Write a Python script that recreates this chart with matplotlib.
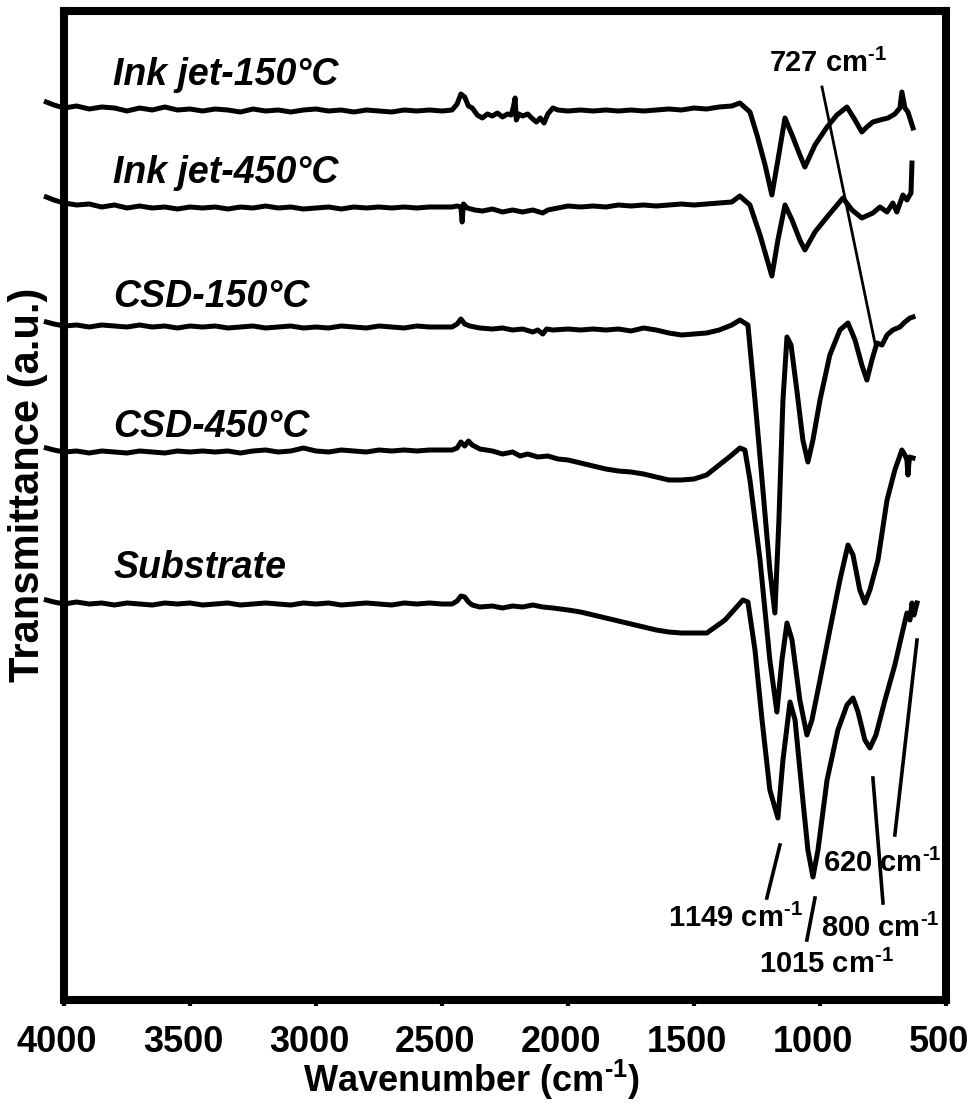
import matplotlib
matplotlib.use("Agg")
import matplotlib.pyplot as plt
from matplotlib.transforms import ScaledTranslation

plt.rcParams['font.family'] = ['Liberation Sans', 'DejaVu Sans']
plt.rcParams['font.weight'] = 'bold'
plt.rcParams['mathtext.fontset'] = 'custom'
plt.rcParams['mathtext.rm'] = 'Liberation Sans:bold'
plt.rcParams['mathtext.bf'] = 'Liberation Sans:bold'
plt.rcParams['mathtext.it'] = 'Liberation Sans:bold:italic'

# FTIR spectra, stacked with offsets (transmittance, arbitrary units)
wn_flat = [4070, 4040, 4000, 3950, 3900, 3850, 3800, 3750, 3700, 3650, 3600, 3550,
           3500, 3450, 3400, 3350, 3300, 3250, 3200, 3150, 3100, 3050, 3000, 2950,
           2900, 2850, 2800, 2750, 2700, 2650, 2600, 2550, 2500]

wn_ij150 = wn_flat + [2460, 2440, 2425, 2410, 2395, 2380, 2360, 2340, 2320, 2300,
                      2280, 2260, 2240, 2225, 2215, 2210, 2205, 2195, 2180, 2160,
                      2140, 2125, 2110, 2095, 2080, 2060, 2040, 2000, 1950, 1900,
                      1850, 1800, 1750, 1700, 1650, 1600, 1550, 1500, 1450, 1400,
                      1350, 1318, 1278, 1250, 1218, 1191, 1167, 1139, 1111, 1080,
                      1060, 1020, 972, 933, 893, 861, 834, 814, 790, 762, 730, 703,
                      683, 675, 663, 651, 631]
t_ij150 = [89.8, 89.5, 89.2, 89.4, 89.1, 89.3, 89.2, 88.9, 89.2, 89.0, 89.3, 89.0,
           89.1, 88.9, 89.1, 89.0, 88.8, 89.1, 88.9, 89.0, 88.8, 89.0, 89.1, 88.9,
           89.0, 88.8, 89.0, 88.9, 88.8, 89.0, 88.9, 89.0, 88.9,
           89.0, 89.6, 90.6, 90.3, 89.4, 89.2, 88.5, 88.2, 88.6, 88.4,
           88.7, 88.3, 88.6, 88.5, 89.5, 90.2, 88.0, 88.6, 88.4, 88.6,
           88.1, 87.8, 88.2, 87.7, 88.6, 89.2, 89.0, 88.9, 89.0, 88.9,
           89.0, 88.9, 89.0, 88.9, 89.0, 89.1, 89.0, 89.2, 89.1, 89.3,
           89.4, 89.7, 88.8, 86.5, 83.5, 80.5, 84.0, 88.2, 86.5, 84.5,
           83.3, 85.5, 87.3, 88.5, 89.3, 88.0, 86.8, 87.3, 87.8, 88.0, 88.2, 88.6,
           89.2, 90.8, 89.2, 88.8, 87.2]

wn_ij450 = wn_flat + [2460, 2440, 2425, 2420, 2415, 2400, 2370, 2340, 2300, 2260,
                      2220, 2180, 2140, 2100, 2080, 2040, 2000, 1950, 1900, 1850,
                      1800, 1750, 1700, 1650, 1600, 1550, 1500, 1450, 1400, 1350,
                      1318, 1278, 1238, 1191, 1167, 1139, 1111, 1080, 1060, 1020,
                      972, 909, 873, 834, 790, 762, 734, 711, 695, 671, 655, 639, 635]
t_ij450 = [80.3, 80.0, 79.7, 79.5, 79.6, 79.3, 79.5, 79.2, 79.4, 79.2, 79.3, 79.1,
           79.3, 79.2, 79.3, 79.1, 79.3, 79.2, 79.4, 79.2, 79.3, 79.1, 79.2, 79.3,
           79.1, 79.3, 79.2, 79.3, 79.2, 79.3, 79.2, 79.3, 79.3,
           79.3, 79.4, 79.3, 77.8, 79.6, 79.2, 79.0, 78.9, 79.1, 78.8,
           79.0, 78.8, 79.0, 78.7, 79.0, 79.2, 79.4, 79.3, 79.4, 79.3,
           79.5, 79.4, 79.5, 79.4, 79.5, 79.6, 79.5, 79.6, 79.7, 79.8,
           80.4, 79.5, 76.5, 72.4, 76.0, 79.5, 78.0, 76.0, 75.0, 76.8,
           78.3, 80.2, 79.0, 78.2, 78.7, 79.3, 78.8, 79.7, 78.8, 80.5, 80.0, 80.7, 83.7]

wn_csd150 = wn_flat + [2460, 2440, 2425, 2410, 2390, 2350, 2300, 2260, 2220, 2180,
                       2140, 2120, 2100, 2085, 2060, 2000, 1950, 1900, 1850, 1800,
                       1750, 1700, 1650, 1600, 1550, 1500, 1450, 1400, 1350, 1318,
                       1286, 1258, 1230, 1199, 1179, 1163, 1147, 1131, 1115, 1092,
                       1068, 1048, 1028, 1000, 961, 921, 889, 861, 834, 814, 794,
                       774, 754, 734, 711, 683, 663, 643, 631]
t_csd150 = [67.8, 67.6, 67.4, 67.5, 67.3, 67.5, 67.4, 67.3, 67.5, 67.3, 67.4, 67.2,
            67.4, 67.3, 67.4, 67.2, 67.3, 67.4, 67.2, 67.3, 67.4, 67.2, 67.3, 67.2,
            67.4, 67.3, 67.2, 67.4, 67.3, 67.2, 67.4, 67.3, 67.3,
            67.3, 67.6, 68.1, 67.6, 67.4, 67.2, 67.1, 67.2, 67.0, 67.1,
            66.8, 67.0, 66.6, 67.1, 67.0, 67.1, 67.0, 67.1, 67.0, 67.1,
            66.9, 67.2, 67.0, 66.7, 66.5, 66.6, 66.7, 67.0, 67.5, 68.0,
            67.5, 60.0, 52.0, 43.0, 38.7, 48.0, 60.0, 66.3, 65.5, 61.0,
            56.0, 53.8, 56.0, 60.0, 64.5, 67.0, 67.7, 66.0, 63.5, 62.0, 64.0,
            65.7, 65.5, 66.5, 67.0, 67.3, 67.8, 68.2, 68.3]

wn_csd450 = wn_flat + [2460, 2440, 2425, 2410, 2395, 2380, 2350, 2300, 2260, 2220,
                       2190, 2160, 2120, 2080, 2040, 2000, 1950, 1900, 1850, 1800,
                       1750, 1700, 1650, 1600, 1550, 1500, 1450, 1400, 1350, 1318,
                       1298, 1278, 1238, 1199, 1171, 1151, 1131, 1111, 1080, 1052,
                       1032, 1000, 961, 921, 889, 869, 842, 822, 802, 770, 734, 703,
                       675, 663, 655, 651, 645, 631]
t_csd450 = [55.2, 55.0, 54.8, 54.9, 54.7, 54.9, 54.8, 54.7, 54.9, 54.8, 54.7, 54.9,
            54.8, 54.9, 54.8, 54.9, 54.7, 54.9, 55.0, 54.8, 54.9, 55.2, 54.9, 54.8,
            55.0, 54.9, 54.8, 55.0, 54.9, 55.0, 54.9, 55.0, 55.0,
            55.0, 55.2, 55.8, 55.4, 55.9, 55.5, 55.1, 54.9, 54.6, 54.8,
            54.4, 54.6, 54.3, 54.4, 54.1, 54.0, 53.7, 53.4, 53.1, 52.9,
            52.8, 52.6, 52.3, 52.0, 52.0, 52.1, 52.5, 53.5, 54.5, 55.2,
            55.0, 52.0, 44.0, 34.0, 28.8, 34.0, 37.7, 36.0, 30.0, 26.5,
            28.0, 32.0, 37.0, 42.0, 45.5, 44.5, 41.0, 39.7, 41.0, 44.0, 50.0, 53.0,
            55.0, 54.5, 54.0, 52.5, 54.3, 54.2]

wn_sub = wn_flat + [2460, 2440, 2425, 2410, 2395, 2380, 2350, 2300, 2260, 2220,
                    2180, 2140, 2100, 2060, 2000, 1950, 1900, 1850, 1800, 1750,
                    1700, 1650, 1600, 1550, 1500, 1449, 1377, 1306, 1286, 1258,
                    1230, 1199, 1167, 1147, 1119, 1099, 1068, 1048, 1028, 1008,
                    972, 929, 893, 869, 849, 822, 802, 778, 742, 703, 671, 655,
                    643, 635, 627, 615]
t_sub = [40.0, 39.8, 39.6, 39.8, 39.6, 39.7, 39.5, 39.7, 39.6, 39.5, 39.7, 39.6,
         39.7, 39.5, 39.6, 39.7, 39.5, 39.6, 39.7, 39.6, 39.5, 39.7, 39.6, 39.7,
         39.5, 39.6, 39.7, 39.6, 39.5, 39.7, 39.6, 39.7, 39.6,
         39.6, 39.9, 40.4, 40.3, 39.8, 39.5, 39.3, 39.4, 39.2, 39.4,
         39.3, 39.5, 39.3, 39.2, 39.0, 38.8, 38.5, 38.2, 37.9, 37.6,
         37.3, 37.0, 36.8, 36.7, 36.7, 36.7, 38.0, 40.0, 39.8, 35.0,
         28.0, 21.0, 18.2, 24.0, 29.8, 28.0, 20.0, 15.0, 12.3, 15.0,
         22.0, 27.0, 29.5, 30.2, 28.8, 26.0, 25.2, 26.5, 30.0, 33.5, 37.0, 38.7,
         38.0, 39.7, 38.5, 39.7]

spectra = [
    ('Ink jet-150°C', wn_ij150, t_ij150),
    ('Ink jet-450°C', wn_ij450, t_ij450),
    ('CSD-150°C', wn_csd150, t_csd150),
    ('CSD-450°C', wn_csd450, t_csd450),
    ('Substrate', wn_sub, t_sub),
]
label_wn = 3805
label_t = [91.5, 81.7, 69.3, 56.3, 42.2]

# band assignments: text centre and pointer line (wn0, t0, wn1, t1)
band_text = ['727 cm$^{\\text{-1}}$', '1149 cm$^{\\text{-1}}$', '1015 cm$^{\\text{-1}}$',
             '800 cm$^{\\text{-1}}$', '620 cm$^{\\text{-1}}$']
band_text_pos = [(968, 92.8), (1337, 7.3), (976, 2.7), (762, 6.3), (754, 12.8)]
band_lines = [(992, 91.3, 782, 65.7), (1159, 15.5, 1211, 10.2), (1020, 10.2, 1052, 6.0),
              (790, 22.2, 750, 9.7), (615, 36.0, 703, 16.5)]
band_lw = [2.0, 2.6, 2.6, 2.6, 2.6]

fig = plt.figure(figsize=(9.72, 11.05), dpi=100)
ax = fig.add_axes([64 / 972, 105 / 1105, 882 / 972, 989 / 1105])

for name, wn, t in spectra:
    ax.plot(wn, t, color='black', lw=3.6, clip_on=False, solid_joinstyle='round')
for name, yt in zip([s[0] for s in spectra], label_t):
    ax.text(label_wn, yt, name, fontsize=27, fontstyle='italic', fontweight='bold')

for txt, (xt, yt) in zip(band_text, band_text_pos):
    ax.text(xt, yt, txt, fontsize=21, fontweight='bold', ha='center')
for (x0, y0, x1, y1), lw in zip(band_lines, band_lw):
    ax.plot([x0, x1], [y0, y1], color='black', lw=lw)

ax.set_xlim(4000, 500)
ax.set_ylim(0, 98.9)
ax.set_xticks([4000, 3500, 3000, 2500, 2000, 1500, 1000, 500])
ax.set_yticks([])
ax.tick_params(axis='x', labelsize=26, width=3, length=4, direction='out', pad=14)
shift = ScaledTranslation(-0.07, 0, fig.dpi_scale_trans)
for lab in ax.get_xticklabels():
    lab.set_fontweight('bold')
    lab.set_transform(lab.get_transform() + shift)
for sp in ax.spines.values():
    sp.set_linewidth(5.8)

ax.set_xlabel('Wavenumber (cm$^{\\text{-1}}$)', fontsize=26, fontweight='bold')
ax.xaxis.set_label_coords(0.462, -0.058)
ax.set_ylabel('Transmittance (a.u.)', fontsize=30, fontweight='bold')
ax.yaxis.set_label_coords(-0.018, 0.521)

plt.savefig('out.png', dpi=100)
